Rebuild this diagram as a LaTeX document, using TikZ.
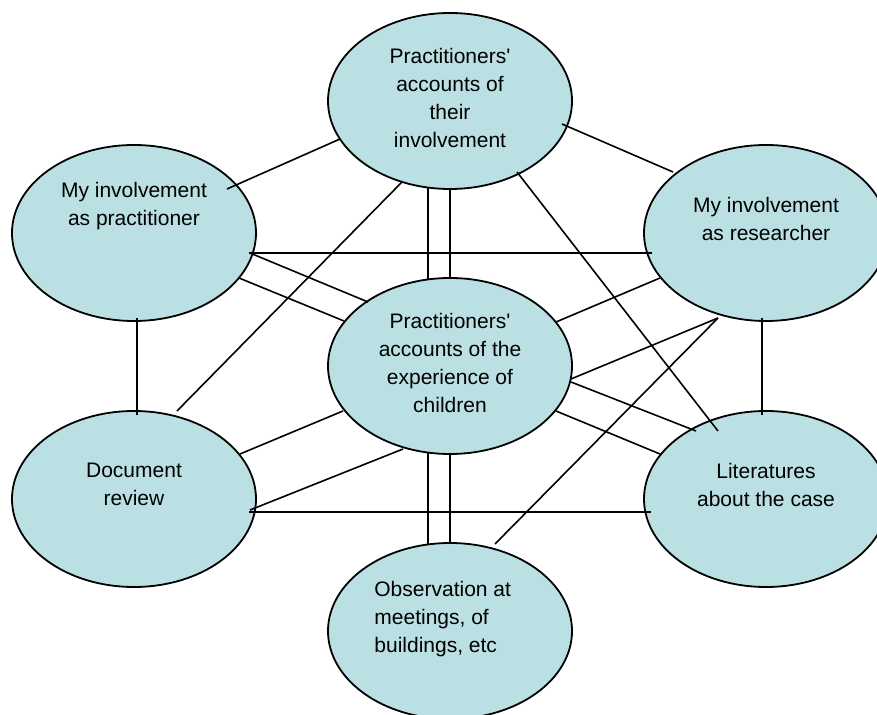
\documentclass[tikz,border=0pt]{standalone}
\usepackage{fontspec}
\setmainfont{Liberation Sans}
\usepackage{tikz}
\usetikzlibrary{shapes.geometric,calc}
\definecolor{paleteal}{RGB}{187,224,227}
\tikzset{
  source/.style = {ellipse, draw=black, fill=paleteal, line width=0.9pt,
    minimum width=122pt, minimum height=88pt, inner sep=0pt},% one source of data
  srctext/.style = {align=center, inner sep=0pt, anchor=north,
    font=\fontsize{10.5}{14}\selectfont},% text set in a source
  tie/.style = {draw=black, line width=0.8pt}% link between two sources
}

\begin{document}
\begin{tikzpicture}[x=0.5pt, y=-0.5pt]
  \useasboundingbox (0,0) rectangle (877,715);
  \clip (0,0) rectangle (877,715);
  % the seven sources
  \node [source] (pta) at (450,101) {};
  \node [source] (mip) at (134,233) {};
  \node [source] (mir) at (766,233) {};
  \node [source] (pce) at (450,366) {};
  \node [source] (doc) at (134,499) {};
  \node [source] (lit) at (766,499) {};
  \node [source] (obs) at (450,631) {};
  % their texts
  \node [srctext] (ptat) at ($(pta.center)+(0,-53)$) {Practitioners\textquotesingle\\accounts of\\their\\involvement};
  \node [srctext] (mipt) at ($(mip.center)+(0,-51)$) {My involvement\\as practitioner};
  \node [srctext] (mirt) at ($(mir.center)+(0,-36)$) {My involvement\\as researcher};
  \node [srctext] (pcet) at ($(pce.center)+(0,-53)$) {Practitioners\textquotesingle\\accounts of the\\experience of\\children};
  \node [srctext] (doct) at ($(doc.center)+(0,-36)$) {Document\\review};
  \node [srctext] (litt) at ($(lit.center)+(0,-36)$) {Literatures\\about the case};
  \node [srctext, anchor=north west, align=left] (obst) at ($(obs.center)+(-76,-50)$) {Observation at\\meetings, of\\buildings, etc};
  % links
  \draw [tie] ($(pta.center)+(-110,38)$) -- ($(mip.center)+(93,-44)$);
  \draw [tie] ($(pta.center)+(112,23)$) -- ($(mir.center)+(-93,-61)$);
  \draw [tie] ($(pta.center)+(-22,87)$) -- ($(pce.center)+(-22,-87)$);
  \draw [tie] ($(pta.center)+(0,88)$) -- ($(pce.center)+(0,-88)$);
  \draw [tie] ($(pta.center)+(-48,81)$) -- ($(doc.center)+(43,-88)$);
  \draw [tie] ($(pta.center)+(67,71)$) -- ($(lit.center)+(-48,-68)$);
  \draw [tie] ($(mip.center)+(115,20)$) -- ($(mir.center)+(-114,20)$);
  \draw [tie] ($(mip.center)+(116,20)$) -- ($(pce.center)+(-82,-64)$);
  \draw [tie] ($(mip.center)+(105,45)$) -- ($(pce.center)+(-106,-45)$);
  \draw [tie] ($(mip.center)+(3,85)$) -- ($(doc.center)+(3,-84)$);
  \draw [tie] ($(mir.center)+(-106,45)$) -- ($(pce.center)+(106,-44)$);
  \draw [tie] ($(mir.center)+(-48,85)$) -- ($(pce.center)+(121,13)$);
  \draw [tie] ($(mir.center)+(-48,85)$) -- ($(obs.center)+(45,-87)$);
  \draw [tie] ($(mir.center)+(-4,85)$) -- ($(lit.center)+(-4,-84)$);
  \draw [tie] ($(pce.center)+(-107,45)$) -- ($(doc.center)+(106,-45)$);
  \draw [tie] ($(pce.center)+(-47,83)$) -- ($(doc.center)+(116,11)$);
  \draw [tie] ($(pce.center)+(121,16)$) -- ($(lit.center)+(-70,-68)$);
  \draw [tie] ($(pce.center)+(106,45)$) -- ($(lit.center)+(-106,-45)$);
  \draw [tie] ($(pce.center)+(-22,87)$) -- ($(obs.center)+(-22,-87)$);
  \draw [tie] ($(pce.center)+(0,88)$) -- ($(obs.center)+(0,-88)$);
  \draw [tie] ($(doc.center)+(115,13)$) -- ($(lit.center)+(-115,13)$);
\end{tikzpicture}
\end{document}
